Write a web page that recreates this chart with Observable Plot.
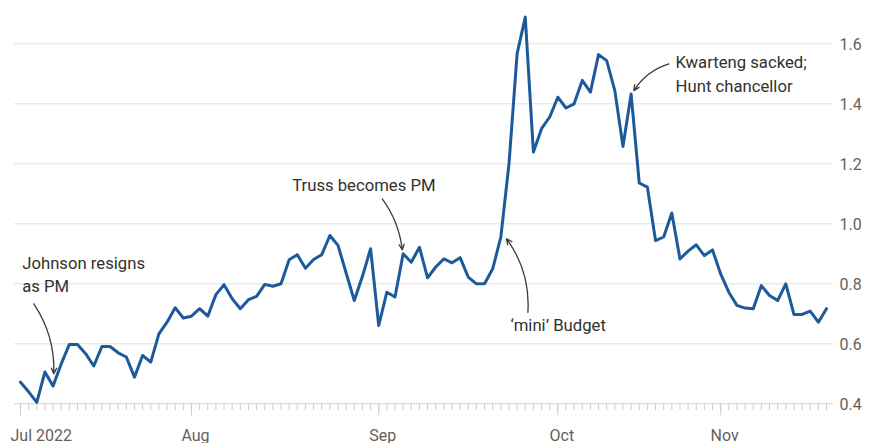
<!DOCTYPE html>
<html><head><meta charset="utf-8">
<script src="https://cdn.jsdelivr.net/npm/d3@7"></script>
<script src="https://cdn.jsdelivr.net/npm/@observablehq/plot@0.6"></script>
<style>
html,body{margin:0;padding:0;background:#fff;}
#chart{width:870px;height:443px;}
</style></head><body><div id="chart"></div>
<script>
const values = [
 0.472,0.44,0.405,0.506,0.459,0.533,0.598,0.598,0.567,0.526,
 0.591,0.591,0.570,0.556,0.489,0.561,0.539,0.633,0.672,0.72,
 0.686,0.692,0.717,0.692,0.764,0.797,0.75,0.717,0.747,0.758,
 0.798,0.792,0.80,0.88,0.897,0.852,0.881,0.897,0.961,0.928,
 0.836,0.744,0.825,0.917,0.661,0.772,0.756,0.90,0.872,0.922,
 0.82,0.856,0.883,0.87,0.887,0.822,0.80,0.80,0.85,0.956,
 1.20,1.567,1.689,1.239,1.317,1.356,1.422,1.386,1.40,1.478,
 1.439,1.564,1.544,1.444,1.258,1.433,1.136,1.122,0.944,0.956,
 1.036,0.883,0.909,0.93,0.894,0.913,0.833,0.772,0.728,0.719,
 0.717,0.794,0.761,0.744,0.80,0.698,0.698,0.709,0.672,0.717
];
const monthLabels = ["Jul 2022","Aug","Sep","Oct","Nov"];
const monthIdx = [0,21,44,66,86];
const yTicks = [0.4,0.6,0.8,1.0,1.2,1.4,1.6];
const noteText = ["Johnson resigns\nas PM","Truss becomes PM","‘mini’ Budget","Kwarteng sacked;\nHunt chancellor"];
const noteX = [0.21,33.37,60.19,80.46];
const noteY = [0.772,1.109,0.644,1.441];
const arrowX1 = [1.63,44.43,62.32,79.64];
const arrowY1 = [0.733,1.083,0.705,1.533];
const arrowX2 = [4.09,46.89,59.7,75.34];
const arrowY2 = [0.50,0.913,0.95,1.444];
const arrowBend = [18,15,-20,-20];

const series = values.map((v,i)=>({i, v}));
const idx = values.map((v,i)=>i);
const notes = noteText.map((t,k)=>({x:noteX[k], y:noteY[k], text:t}));
const months = monthLabels.map((l,k)=>({x:monthIdx[k], label:l}));
const font = "Roboto, 'Noto Sans', sans-serif";

const chart = Plot.plot({
  width: 870,
  height: 443,
  marginTop: 43.3,
  marginBottom: 39.7,
  marginLeft: 14,
  marginRight: 37,
  style: {fontFamily: font, fontSize: "16px", color: "#66605c", background: "#fff"},
  x: {type: "linear", domain: [-0.737, 99.86]},
  y: {domain: [0.4, 1.6]},
  marks: [
    Plot.ruleY(yTicks.slice(1), {stroke: "#e4e2e0", strokeWidth: 1}),
    Plot.ruleY([0.4], {stroke: "#d4d2d0", strokeWidth: 1}),
    Plot.axisX({ticks: idx, tickSize: 7, tickFormat: () => "", stroke: "#cfcdcb"}),
    Plot.axisX({ticks: monthIdx, tickSize: 12, tickFormat: () => "", stroke: "#cfcdcb"}),
    Plot.text(months.slice(0,1), {x: "x", text: "label", frameAnchor: "bottom", dy: 36.7, dx: -10, lineAnchor: "bottom", textAnchor: "start", fill: "#66605c", fontSize: 16}),
    Plot.text(months.slice(1), {x: "x", text: "label", frameAnchor: "bottom", dy: 36.7, dx: 4, lineAnchor: "bottom", textAnchor: "middle", fill: "#66605c", fontSize: 16}),
    Plot.axisY({ticks: yTicks, anchor: "right", tickSize: 0, tickPadding: 6, tickFormat: d3.format(".1f"), label: null, fill: "#66605c", fontSize: 16, dy: 1}),
    Plot.lineY(series, {x: "i", y: "v", stroke: "#1d5a9c", strokeWidth: 3, strokeLinejoin: "round", strokeLinecap: "round"}),
    ...arrowX1.map((_,k) => Plot.arrow([k], {x1: d => arrowX1[d], y1: d => arrowY1[d], x2: d => arrowX2[d], y2: d => arrowY2[d], bend: arrowBend[k], stroke: "#3d3a38", strokeWidth: 1.3, headLength: 7, headAngle: 50})),
    Plot.text(notes, {x: "x", y: "y", text: "text", lineAnchor: "bottom", textAnchor: "start", lineHeight: 1.4, fill: "#33302e", fontSize: 16.7})
  ]
});
document.getElementById("chart").appendChild(chart);
</script></body></html>
